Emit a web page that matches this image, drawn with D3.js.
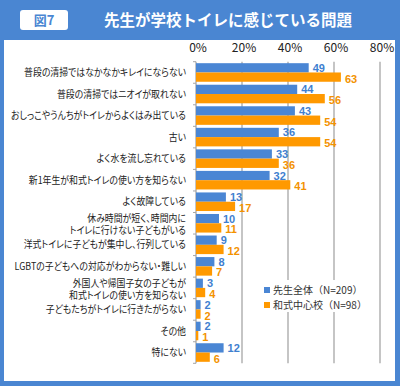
<!DOCTYPE html>
<html lang="ja">
<head>
<meta charset="utf-8">
<title>図7 先生が学校トイレに感じている問題</title>
<script src="https://d3js.org/d3.v7.min.js"></script>
<style>
  body { margin: 0; background: #fff; }
  svg text { font-family: "Noto Sans CJK JP", sans-serif; }
  .cat { font-feature-settings: "palt"; }
</style>
</head>
<body>
<div id="chart"></div>
<script>
// data
const categories = [
  "普段の清掃ではなかなかキレイにならない",
  "普段の清掃ではニオイが取れない",
  "おしっこやうんちがトイレからよくはみ出ている",
  "古い",
  "よく水を流し忘れている",
  "新1年生が和式トイレの使い方を知らない",
  "よく故障している",
  "休み時間が短く、時間内に\nトイレに行けない子どもがいる",
  "洋式トイレに子どもが集中し、行列している",
  "LGBTの子どもへの対応がわからない・難しい",
  "外国人や帰国子女の子どもが\n和式トイレの使い方を知らない",
  "子どもたちがトイレに行きたがらない",
  "その他",
  "特にない"
];
const seriesNames = ["先生全体（N=209）", "和式中心校（N=98）"];
const teachersAll = [49, 44, 43, 36, 33, 32, 13, 10, 9, 8, 3, 2, 2, 12];
const washiki = [63, 56, 54, 54, 36, 41, 17, 11, 12, 7, 4, 2, 1, 6];
const xTicks = [0, 20, 40, 60, 80];

const colors = ["#4a86d4", "#ff9900"];
const labelColors = ["#3f7fd0", "#f39200"];

const W = 400, H = 386;
const svg = d3.select("#chart").append("svg")
  .attr("width", W).attr("height", H);

// frame and header
svg.append("rect").attr("width", W).attr("height", H).attr("fill", "#4a86d2");
svg.append("rect").attr("x", 4).attr("y", 40).attr("width", 391).attr("height", 341).attr("fill", "#fff");
svg.append("rect").attr("x", 20).attr("y", 10).attr("width", 48).attr("height", 20)
  .attr("rx", 3).attr("fill", "#fff");
svg.append("text").attr("x", 44).attr("y", 20).attr("dy", "0.36em")
  .attr("text-anchor", "middle").attr("fill", "#4a86d2")
  .style("font-size", "13px").style("font-weight", "bold").text("図7");
svg.append("text").attr("x", 228).attr("y", 20).attr("dy", "0.36em")
  .attr("text-anchor", "middle").attr("fill", "#fff")
  .style("font-size", "15.5px").style("font-weight", "bold")
  .text("先生が学校トイレに感じている問題");

// scales
const x = d3.scaleLinear().domain([0, 80]).range([196, 380]);
const y = d3.scaleBand().domain(d3.range(categories.length)).range([61.7, 363.3]);
const ySub = d3.scaleBand().domain([0, 1]).range([0, y.bandwidth()]).paddingOuter(0.16);

// gridlines
svg.append("g").selectAll("line")
  .data(xTicks.slice(1))
  .join("line")
    .attr("x1", d => x(d)).attr("x2", d => x(d))
    .attr("y1", y.range()[0]).attr("y2", y.range()[1])
    .attr("stroke", "#a6a6a6").attr("stroke-width", 1.3);

// x tick labels
svg.append("g").selectAll("text")
  .data(xTicks)
  .join("text")
    .attr("x", d => x(d) + 2).attr("y", 48).attr("dy", "0.36em")
    .attr("text-anchor", "middle").attr("fill", "#222")
    .style("font-size", "12px")
    .text(d => d + "%");

// y axis
const yAxisG = svg.append("g").attr("transform", `translate(${x(0)},0)`);
yAxisG.append("line").attr("y1", y.range()[0]).attr("y2", y.range()[1])
  .attr("stroke", "#a6a6a6").attr("stroke-width", 1.3);
yAxisG.selectAll("line.tick")
  .data(d3.range(categories.length + 1))
  .join("line").attr("class", "tick")
    .attr("x1", -3).attr("x2", 0)
    .attr("y1", i => y.range()[0] + i * y.step())
    .attr("y2", i => y.range()[0] + i * y.step())
    .attr("stroke", "#a6a6a6");

// category labels (narrowed a bit, the original font is condensed)
const catLabels = svg.append("g").selectAll("text")
  .data(categories)
  .join("text")
    .attr("class", "cat")
    .attr("text-anchor", "end").attr("fill", "#222")
    .style("font-size", "10px")
    .attr("transform", (d, i) => `translate(186,${y(i) + y.bandwidth() / 2}) scale(0.89,1)`);
catLabels.each(function(d) {
  const lines = d.split("\n");
  const t = d3.select(this);
  lines.forEach((ln, k) => {
    t.append("tspan").attr("x", 0)
      .attr("y", lines.length > 1 ? (k === 0 ? -5 : 7.5) : 0)
      .attr("dy", "0.36em").text(ln);
  });
});

// bars
[teachersAll, washiki].forEach((vals, s) => {
  const g = svg.append("g");
  g.selectAll("rect")
    .data(vals)
    .join("rect")
      .attr("x", x(0))
      .attr("y", (d, i) => y(i) + ySub(s))
      .attr("width", d => x(d) - x(0))
      .attr("height", ySub.bandwidth())
      .attr("fill", colors[s]);
  g.selectAll("text")
    .data(vals)
    .join("text")
      .attr("x", d => x(d) + 4)
      .attr("y", (d, i) => y(i) + ySub(s) + ySub.bandwidth() / 2 + (s === 0 ? 0 : 1.5))
      .attr("dy", "0.36em")
      .attr("fill", labelColors[s])
      .style("font-family", "'Liberation Sans', Arial, sans-serif")
      .style("font-size", "11px").style("font-weight", "bold")
      .text(d => d);
});

// legend
const legend = svg.append("g");
legend.append("rect").attr("x", 262).attr("y", 280).attr("width", 110).attr("height", 32).attr("fill", "#fff");
seriesNames.forEach((name, s) => {
  const ly = 290 + s * 15;
  legend.append("rect").attr("x", 264).attr("y", ly - 3).attr("width", 6).attr("height", 6)
    .attr("fill", colors[s]);
  legend.append("text").attr("x", 273).attr("y", ly).attr("dy", "0.36em")
    .attr("fill", "#333").style("font-size", "10px")
    .text(name);
});
</script>
</body>
</html>
